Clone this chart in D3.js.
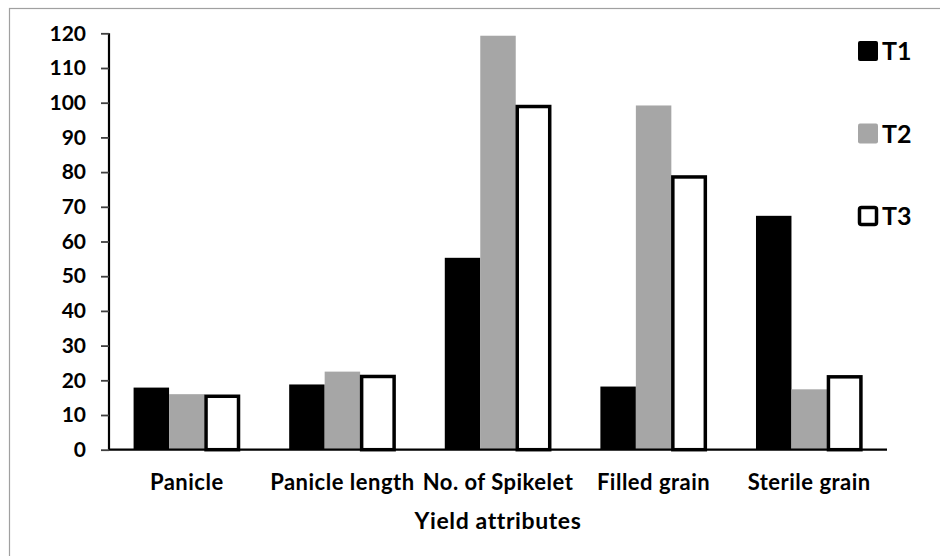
<!DOCTYPE html>
<html><head><meta charset="utf-8">
<script src="https://cdn.jsdelivr.net/npm/d3@7"></script>
<style>body{margin:0;background:#fff}svg{display:block}text{font-family:Lato,"Open Sans",sans-serif;font-weight:bold;fill:#000}</style>
</head><body>
<svg id="c" width="940" height="556"></svg>
<script>
(function(){
const categories = ["Panicle","Panicle length","No. of Spikelet","Filled grain","Sterile grain"];
const seriesNames = ["T1","T2","T3"];
const T1 = [17.9, 18.8, 55.3, 18.2, 67.4];
const T2 = [16.0, 22.5, 119.3, 99.2, 17.4];
const T3 = [15.4, 21.1, 98.9, 78.6, 21.0];
const yTicks = [0,10,20,30,40,50,60,70,80,90,100,110,120];
const xTitle = "Yield attributes";

const values = [T1, T2, T3];
const fills = ["#000000","#a6a6a6","#ffffff"];
const strokes = ["none","none","#000000"];

const svg = d3.select("#c");
svg.append("rect").attr("x",9.5).attr("y",8.5).attr("width",940).attr("height",560)
  .attr("fill","none").attr("stroke","#a0a0a0").attr("stroke-width",1.2);

const pl=109, pr=887, pt=33.3, pb=449.7;
const y = d3.scaleLinear().domain([0,120]).range([pb,pt]);
const x0 = d3.scaleBand().domain(categories).range([pl,pr]).paddingInner(0.316).paddingOuter(0.158);
const x1 = d3.scaleBand().domain(seriesNames).range([0,x0.bandwidth()]);

const g = svg.append("g");
seriesNames.forEach((s,si)=>{
  g.selectAll(".b"+si).data(categories).enter().append("rect")
    .attr("x",c=>x0(c)+x1(s)+(si==2?1.5:0))
    .attr("y",(c,i)=>y(values[si][i]))
    .attr("width",x1.bandwidth()-(si==2?3:0))
    .attr("height",(c,i)=>pb-y(values[si][i]))
    .attr("fill",fills[si]).attr("stroke",strokes[si]).attr("stroke-width",3.5);
});

const ya = svg.append("g").attr("transform",`translate(${pl},0)`)
  .call(d3.axisLeft(y).tickValues(yTicks).tickSize(8).tickPadding(15).tickFormat(d3.format("d")));
ya.select(".domain").attr("stroke","#000").attr("stroke-width",2.2).attr("d",`M0,${pb}V${pt}`);
ya.selectAll(".tick line").attr("stroke","#404040").attr("stroke-width",1.8);
ya.selectAll(".tick text").attr("font-size",21).attr("font-family","Lato").attr("font-weight","bold").attr("fill","#000");

const xa = svg.append("g").attr("transform",`translate(0,${pb})`)
  .call(d3.axisBottom(x0).tickSize(0).tickPadding(25));
xa.select(".domain").attr("stroke","#000").attr("stroke-width",2.2).attr("d",`M${pl},0H${pr}`);
xa.selectAll(".tick text").attr("font-size",22).attr("letter-spacing","0.5px")
  .attr("font-family","Lato").attr("font-weight","bold").attr("fill","#000");

svg.append("text").attr("x",(pl+pr)/2).attr("y",529).attr("text-anchor","middle")
  .attr("font-size",23).attr("letter-spacing","0.6px").text(xTitle);

const leg = svg.append("g");
seriesNames.forEach((s,i)=>{
  const cy = 51 + i*82.5;
  leg.append("rect").attr("x",i==2?859.5:858).attr("y",i==2?cy-8.5:cy-10)
    .attr("width",i==2?17:20).attr("height",i==2?17:20).attr("rx",2)
    .attr("fill",fills[i]).attr("stroke",strokes[i]).attr("stroke-width",3.5);
  leg.append("text").attr("x",882).attr("y",cy+9).attr("font-size",25).text(s);
});
})();
</script>
</body></html>
